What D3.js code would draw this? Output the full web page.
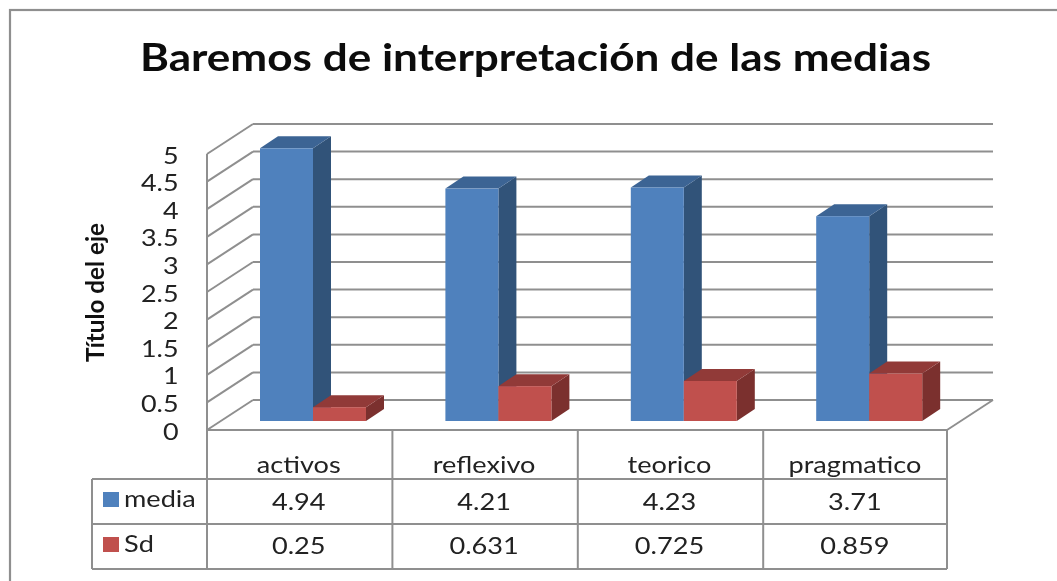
<!DOCTYPE html>
<html><head><meta charset="utf-8">
<script src="https://cdn.jsdelivr.net/npm/d3@7"></script>
<style>
html,body{margin:0;padding:0;background:#fff;overflow:hidden}
svg{display:block;filter:blur(0.5px)}
text{font-family:Lato,"Open Sans",sans-serif;fill:#222}
</style></head><body>
<svg id="c" width="1057" height="581"></svg>
<script>
const titleText = "Baremos de interpretación de las medias";
const axisTitle = "Título del eje";
const categories = ["activos","reflexivo","teorico","pragmatico"];
const seriesNames = ["media","Sd"];
const media = [4.94,4.21,4.23,3.71];
const sd = [0.25,0.631,0.725,0.859];
const sdLabels = ["0.25","0.631","0.725","0.859"];
const yTicks = [0,0.5,1,1.5,2,2.5,3,3.5,4,4.5,5];

const W=1057,H=581;
const line="#8f8f8f";
const svg=d3.select("#c");
const left=207,right=947,y0=430,y5=154;
const dx=46,dy=-30;          // wall depth
const bx=18,by=-12,bIn=9;    // bar depth, inset
const y=d3.scaleLinear().domain([0,5]).range([y0,y5]);
const xCat=d3.scaleBand().domain(categories).range([left,left+741.6]);
const xSer=d3.scaleBand().domain(seriesNames).range([53,159]);
const colors={media:{f:"#4f81bd",t:"#3c6494",s:"#315379"},Sd:{f:"#c0504d",t:"#913a38",s:"#7b302e"}};
const vals={media,Sd:sd};

function T(x,yy,s,size,sx,anchor,weight,rot){
  return svg.append("text").text(s).attr("font-size",size)
    .attr("text-anchor",anchor||"middle").attr("font-weight",weight||400)
    .attr("transform",`translate(${x},${yy})`+(rot?` rotate(${rot})`:"")+` scale(${sx},1)`);
}
function L(x1,y1,x2,y2,w){svg.append("line").attr("x1",x1).attr("y1",y1).attr("x2",x2).attr("y2",y2)
  .attr("stroke",line).attr("stroke-width",w||2);}

// outer frame (runs past the window on right and bottom)
svg.append("rect").attr("x",10).attr("y",10).attr("width",W+20).attr("height",H+20)
  .attr("fill","#fff").attr("stroke",line).attr("stroke-width",2.2);

T(535.5,71,titleText,38,1.16,"middle",700).style("fill","#0c0c0c");

// walls + gridlines
yTicks.forEach(v=>{
  L(left,y(v),left+dx,y(v)+dy);
  L(left+dx,y(v)+dy,right+dx,y(v)+dy);
});
L(left,y0,left,y5);
L(right,y0,right+dx,y0+dy);
L(left,y0,right,y0);

// tick labels
yTicks.forEach(v=>T(178.5,y(v)+9.5,String(v),23,1.17,"end"));
T(104,292.5,axisTitle,25,0.97,"middle",700,-90).style("fill","#111");

// bars
const base=y(0)-bIn;
const h=d3.scaleLinear().domain([0,5]).range([0,y0-y5]);
categories.forEach((c,i)=>{
  seriesNames.forEach(s=>{
    const x=xCat(c)+xSer(s),w=xSer.bandwidth(),v=vals[s][i],top=base-h(v),col=colors[s];
    svg.append("path").attr("fill",col.s).attr("d",`M${x+w},${base}L${x+w+bx},${base+by}L${x+w+bx},${top+by}L${x+w},${top}Z`);
    svg.append("path").attr("fill",col.t).attr("d",`M${x},${top}L${x+bx},${top+by}L${x+w+bx},${top+by}L${x+w},${top}Z`);
    svg.append("rect").attr("fill",col.f).attr("x",x).attr("y",top).attr("width",w).attr("height",h(v));
  });
});

// data table
const rowY=[479,524,569],tLeft=92;
rowY.forEach(r=>L(tLeft,r,right,r));
L(tLeft,rowY[0],tLeft,rowY[2]);
d3.range(5).forEach(i=>{const x=Math.min(right,left+i*xCat.step());L(x,y0,x,rowY[2]);});
const fs=23,sx=1.18;
categories.forEach((c,i)=>{
  const cx=xCat(c)+xCat.bandwidth()/2-1;
  T(cx,472.5,c,fs,sx);
  T(cx,509.5,String(media[i]),fs,sx);
  T(cx,554,sdLabels[i],fs,sx);
});
seriesNames.forEach((s,i)=>{
  svg.append("rect").attr("x",103).attr("y",[492,537][i]).attr("width",16).attr("height",15).attr("fill",colors[s].f);
  T(124,[506.5,552][i],s,fs,sx,"start");
});
</script></body></html>
